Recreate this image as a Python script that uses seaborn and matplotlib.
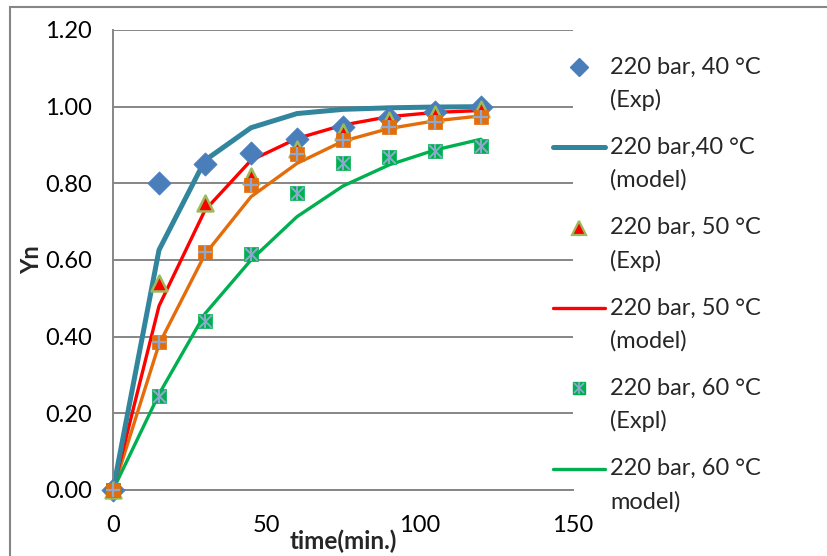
import numpy as np
import pandas as pd
import matplotlib.pyplot as plt
import seaborn as sns
from matplotlib.lines import Line2D
from matplotlib.patches import Rectangle

# data
time = [0, 15, 30, 45, 60, 75, 90, 105, 120]
exp_40 = [0, 0.80, 0.85, 0.88, 0.915, 0.946, 0.970, 0.987, 0.998]
model_40 = [0, 0.626, 0.860, 0.945, 0.982, 0.993, 0.997, 0.999, 1.0]
exp_50 = [0, 0.54, 0.75, 0.82, 0.89, 0.935, 0.965, 0.982, 0.993]
model_50 = [0, 0.48, 0.73, 0.86, 0.917, 0.952, 0.974, 0.985, 0.99]
exp_55 = [0, 0.385, 0.62, 0.795, 0.877, 0.913, 0.946, 0.961, 0.972]
model_55 = [0, 0.38, 0.615, 0.765, 0.852, 0.91, 0.943, 0.963, 0.976]
exp_60 = [0, 0.245, 0.44, 0.615, 0.776, 0.854, 0.87, 0.885, 0.897]
model_60 = [0, 0.25, 0.46, 0.60, 0.713, 0.793, 0.848, 0.887, 0.915]

labels = ["220 bar, 40 °C\n(Exp)", "220 bar,40 °C\n(model)",
          "220 bar, 50 °C\n(Exp)", "220 bar, 50 °C\n(model)",
          "220 bar, 60 °C\n(Expl)", "220 bar, 60 °C\nmodel)"]

df = pd.DataFrame({"t": time, "e40": exp_40, "m40": model_40, "e50": exp_50,
                   "m50": model_50, "e55": exp_55, "m55": model_55,
                   "e60": exp_60, "m60": model_60})

sns.set_style("white")
plt.rcParams['font.family'] = ['Lato', 'DejaVu Sans']

BLUE = "#4A7EBB"
TEAL = "#31859C"
RED = "#FF0000"
OLIVE = "#9BBB59"
ORANGE = "#E46C0A"
GREEN = "#00B050"
CROSS = "#8EA9D0"
GRID = "#868686"
FS = 17

W, H = 827, 556
fig = plt.figure(figsize=(W / 100, H / 100), dpi=100)
ax = fig.add_axes([113 / W, 1 - 490 / H, (573 - 113) / W, (490 - 30) / H])

# lines (model curves)
sns.lineplot(data=df, x="t", y="m55", ax=ax, color=ORANGE, lw=2.4, zorder=2, clip_on=False)
sns.lineplot(data=df, x="t", y="m60", ax=ax, color=GREEN, lw=2.4, zorder=2, clip_on=False)
sns.lineplot(data=df, x="t", y="m50", ax=ax, color=RED, lw=2.4, zorder=2, clip_on=False)
sns.lineplot(data=df, x="t", y="m40", ax=ax, color=TEAL, lw=3.6, zorder=2, clip_on=False)

# experimental markers
sns.scatterplot(data=df, x="t", y="e40", ax=ax, marker="D", s=140, color=BLUE,
                edgecolor=BLUE, linewidth=0.5, zorder=3, clip_on=False)
sns.scatterplot(data=df, x="t", y="e50", ax=ax, marker="^", s=130, color=RED,
                edgecolor=OLIVE, linewidth=1.8, zorder=4, clip_on=False)
sns.scatterplot(data=df, x="t", y="e60", ax=ax, marker="s", s=110, color=GREEN,
                edgecolor=GREEN, linewidth=0.5, zorder=5, clip_on=False)
sns.scatterplot(data=df, x="t", y="e60", ax=ax, marker="x", s=80, color=CROSS,
                linewidth=1.4, zorder=6, clip_on=False)
sns.scatterplot(data=df, x="t", y="e60", ax=ax, marker="|", s=100, color=CROSS,
                linewidth=1.4, zorder=6, clip_on=False)
sns.scatterplot(data=df, x="t", y="e55", ax=ax, marker="s", s=110, color=ORANGE,
                edgecolor=ORANGE, linewidth=0.5, zorder=7, clip_on=False)
sns.scatterplot(data=df, x="t", y="e55", ax=ax, marker="+", s=110, color=CROSS,
                linewidth=1.6, zorder=8, clip_on=False)

ax.set_xlim(0, 150)
ax.set_ylim(0, 1.2)
ax.set_xticks([0, 50, 100, 150])
ax.set_yticks(np.arange(0, 1.21, 0.2))
ax.set_yticklabels([f"{v:.2f}" for v in np.arange(0, 1.21, 0.2)])
ax.grid(axis="y", color=GRID, lw=1.4)
ax.set_axisbelow(True)
for s in ["top", "right"]:
    ax.spines[s].set_visible(False)
for s in ["left", "bottom"]:
    ax.spines[s].set_color(GRID)
    ax.spines[s].set_linewidth(1.4)
ax.tick_params(axis="both", direction="out", length=7, width=1.4, color=GRID,
               labelsize=FS, labelcolor="black")
ax.tick_params(axis="x", pad=11)
ax.tick_params(axis="y", pad=8)
ax.set_xlabel("time(min.)", fontsize=FS + 0.5, fontweight="bold", va="center")
ax.set_ylabel("Yn", fontsize=FS, fontweight="bold", va="center")
ax.xaxis.set_label_coords((343 - 113) / 460, -(541 - 490) / 460)
ax.yaxis.set_label_coords(-(113 - 32) / 460, 0.5)

# manual legend on the right
fx = lambda px: px / W
fy = lambda py: 1 - py / H
styles = [
    dict(marker="D", ms=9, mfc=BLUE, mec=BLUE, ls="none"),
    dict(color=TEAL, lw=3.6, solid_capstyle="round"),
    dict(marker="^", ms=10, mfc=RED, mec=OLIVE, mew=1.6, ls="none"),
    dict(color=RED, lw=2.4),
    dict(marker="s", ms=8, mfc=GREEN, mec=GREEN, ls="none"),
    dict(color=GREEN, lw=2.4),
]
for i, (lab, st) in enumerate(zip(labels, styles)):
    y = 67 + 80.3 * i
    if st.get("ls") == "none":
        fig.add_artist(Line2D([fx(579)], [fy(y)], **st))
        if i == 4:
            fig.add_artist(Line2D([fx(579)], [fy(y)], marker="x", ms=7, mec=CROSS, mew=1.2, ls="none"))
            fig.add_artist(Line2D([fx(579)], [fy(y)], marker="|", ms=9, mec=CROSS, mew=1.2, ls="none"))
    else:
        fig.add_artist(Line2D([fx(553), fx(605)], [fy(y), fy(y)], **st))
    first, second = lab.split("\n")
    fig.text(fx(610), fy(y), first, fontsize=FS, va="center", ha="left")
    fig.text(fx(610), fy(y + 33), second, fontsize=FS, va="center", ha="left")

# chart area border
fig.add_artist(Rectangle((10 / W, -0.1), 1.2, 1.1 - 7 / H, transform=fig.transFigure,
                         fill=False, edgecolor=GRID, lw=1.5))

fig.savefig("out.png", dpi=100)
